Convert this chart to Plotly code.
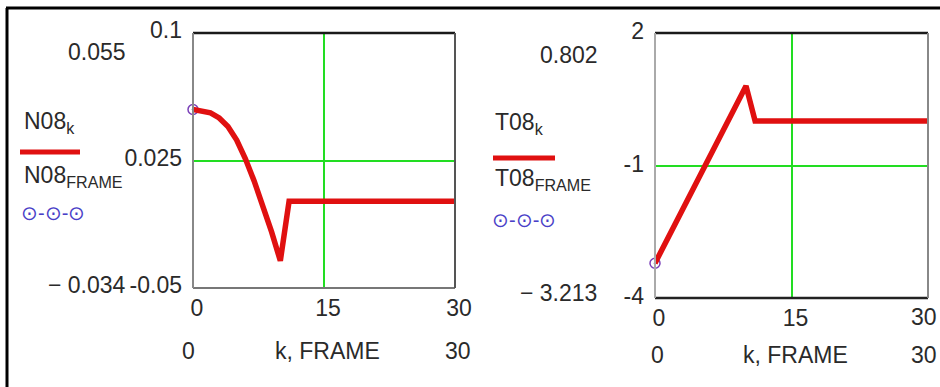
import plotly.graph_objects as go

# ---- data -------------------------------------------------------------
k = list(range(31))
N08 = [0.055, 0.054, 0.053, 0.050, 0.045, 0.037, 0.026, 0.013, -0.001, -0.017, -0.034] + [0.001] * 20
T08 = [-3.213, -2.81, -2.41, -2.01, -1.61, -1.20, -0.80, -0.40, 0.00, 0.40, 0.802] + [0.01] * 20
FRAME = [0]
N08_FRAME = [0.055]
T08_FRAME = [-3.213]

x_ticks = [0, 15, 30]
n08_ticks = [-0.05, 0.025, 0.1]
n08_ticktext = ["-0.05", "0.025", "0.1"]
t08_ticks = [-4, -1, 2]
t08_ticktext = ["-4", "-1", "2"]

# ---- styling ----------------------------------------------------------
W, H = 940, 387
FONT = "Liberation Sans, Arial, sans-serif"
FS = 23
TXT = "#2a2a2a"
RED = "#e01010"
GREEN = "#22dd22"
BLUE = "#4a3fc8"


def px(x):
    return x / W


def py(y):
    return 1 - y / H


fig = go.Figure()

# curves
fig.add_trace(go.Scatter(x=FRAME, y=N08_FRAME, mode="markers", xaxis="x", yaxis="y",
                         marker=dict(symbol="circle-open-dot", size=10, color="#7a3fb8",
                                     line=dict(width=1.5)), cliponaxis=False))
fig.add_trace(go.Scatter(x=k, y=N08, mode="lines", xaxis="x", yaxis="y",
                         line=dict(color=RED, width=5.5)))
fig.add_trace(go.Scatter(x=FRAME, y=T08_FRAME, mode="markers", xaxis="x2", yaxis="y2",
                         marker=dict(symbol="circle-open-dot", size=10, color="#7a3fb8",
                                     line=dict(width=1.5)), cliponaxis=False))
fig.add_trace(go.Scatter(x=k, y=T08, mode="lines", xaxis="x2", yaxis="y2",
                         line=dict(color=RED, width=5.5)))

axis_common = dict(showgrid=True, gridcolor=GREEN, gridwidth=1.5, zeroline=False,
                   showline=False, ticks="", automargin=False,
                   tickfont=dict(family=FONT, size=FS, color=TXT))

fig.update_layout(
    width=W, height=H,
    margin=dict(l=0, r=0, t=0, b=0, autoexpand=False),
    paper_bgcolor="white", plot_bgcolor="white",
    showlegend=False,
    xaxis=dict(domain=[px(193), px(455)], range=[0, 30], tickvals=x_ticks, anchor="y",
               ticklabelstandoff=4, ticklabelshift=4, **axis_common),
    yaxis=dict(domain=[py(288), py(33)], range=[-0.05, 0.1], tickvals=n08_ticks,
               ticktext=n08_ticktext, anchor="x", ticklabelstandoff=10, ticklabelshift=-3,
               **axis_common),
    xaxis2=dict(domain=[px(655), px(928)], range=[0, 30], tickvals=x_ticks, anchor="y2",
                ticklabelstandoff=4, ticklabelshift=4, **axis_common),
    yaxis2=dict(domain=[py(298), py(33)], range=[-4, 2], tickvals=t08_ticks,
                ticktext=t08_ticktext, anchor="x2", ticklabelstandoff=10, ticklabelshift=-2,
                **axis_common),
)

shapes = []


def frame(xa, ya, top, bottom, left, right):
    xr, yr = xa + " domain", ya + " domain"
    for (x0, y0, x1, y1), (c, w) in [((0, 1, 1, 1), top), ((0, 0, 1, 0), bottom),
                                     ((0, 0, 0, 1), left), ((1, 0, 1, 1), right)]:
        shapes.append(dict(type="line", xref=xr, yref=yr, x0=x0, y0=y0, x1=x1, y1=y1,
                           line=dict(color=c, width=w)))


frame("x", "y", ("#1a1a1a", 2.5), ("#777777", 2), ("#888888", 2), ("#555555", 2))
frame("x2", "y2", ("#1a1a1a", 2.5), ("#222222", 2.5), ("#aaaaaa", 2), ("#888888", 2))

# outer border of the worksheet region
shapes.append(dict(type="line", xref="paper", yref="paper", x0=px(6), x1=1, y0=py(8), y1=py(8),
                   line=dict(color="black", width=3)))
shapes.append(dict(type="line", xref="paper", yref="paper", x0=px(7), x1=px(7), y0=0, y1=py(8),
                   line=dict(color="black", width=3)))

# legend line samples
shapes.append(dict(type="line", xref="paper", yref="paper", x0=px(20), x1=px(80),
                   y0=py(152), y1=py(152), line=dict(color=RED, width=5)))
shapes.append(dict(type="line", xref="paper", yref="paper", x0=px(493), x1=px(555),
                   y0=py(158), y1=py(158), line=dict(color=RED, width=5)))
fig.update_layout(shapes=shapes)

annotations = []


def label(text, x, y, anchor="center", size=FS, color=TXT):
    annotations.append(dict(text=text, x=px(x), y=py(y), xref="paper", yref="paper",
                            xanchor=anchor, yanchor="middle", showarrow=False,
                            font=dict(family=FONT, size=size, color=color)))


def fmt(v):
    s = f"{v:.3f}"
    return s.replace("-", "\u2212 ")


# max / min readouts
label(fmt(max(N08)), 128, 52, "right")
label(fmt(min(N08)), 128, 285, "right")
label(fmt(max(T08)), 600, 55, "right")
label(fmt(min(T08)), 599, 293, "right")

# end tick of the right plot, kept inside the page edge
label(str(x_ticks[-1]), 939, 317, "right")

# x range row
label(str(k[0]), 188, 351)
label("k, FRAME", 327, 351)
label(str(k[-1]), 458, 351)
label(str(k[0]), 657, 355)
label("k, FRAME", 795, 355)
label(str(k[-1]), 924, 355)

# legends
label("N08<sub>k</sub>", 22, 122, "left")
label("N08<sub>FRAME</sub>", 22, 176, "left")
label("\u2299-\u2299-\u2299", 19, 213, "left", size=20, color=BLUE)
label("T08<sub>k</sub>", 493, 124, "left")
label("T08<sub>FRAME</sub>", 493, 180, "left")
label("\u2299-\u2299-\u2299", 490, 220, "left", size=20, color=BLUE)

fig.update_layout(annotations=annotations)

fig.write_html("out.html")
